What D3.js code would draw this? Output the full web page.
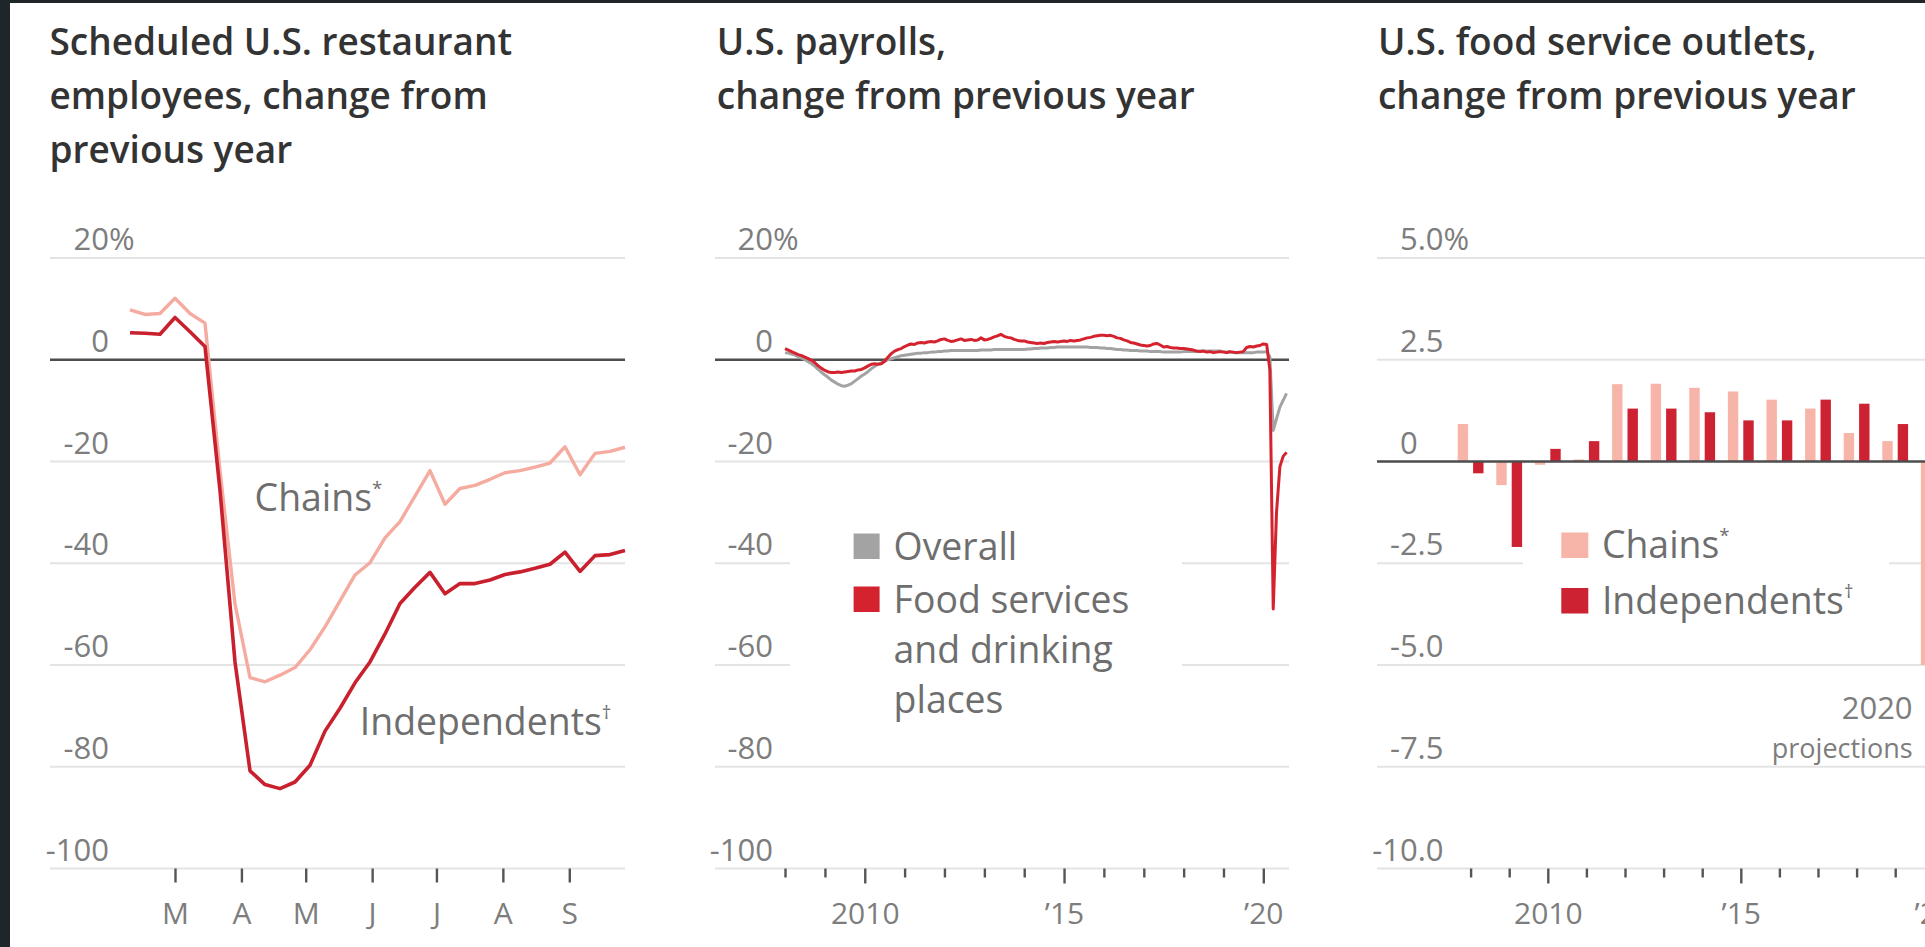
<!DOCTYPE html>
<html>
<head>
<meta charset="utf-8">
<script src="https://cdn.jsdelivr.net/npm/d3@7"></script>
<style>
  html, body { margin: 0; padding: 0; background: #1e2629; }
  svg { display: block; }
</style>
</head>
<body>
<svg id="chart" width="1925" height="947"></svg>
<script>
// ---------- Panel 1: scheduled restaurant employees (weekly, 2020) ----------
const weekDates = ["2020-02-09","2020-02-16","2020-02-23","2020-03-01","2020-03-08","2020-03-15",
  "2020-03-22","2020-03-29","2020-04-05","2020-04-12","2020-04-19","2020-04-26","2020-05-03",
  "2020-05-10","2020-05-17","2020-05-24","2020-05-31","2020-06-07","2020-06-14","2020-06-21",
  "2020-06-28","2020-07-05","2020-07-12","2020-07-19","2020-07-26","2020-08-02","2020-08-09",
  "2020-08-16","2020-08-23","2020-08-30","2020-09-06","2020-09-13","2020-09-20","2020-09-27"];
const chainsWeekly = [9.8, 8.9, 9.1, 12.1, 9.1, 7.2, -21.8, -48, -62.5, -63.3, -62, -60.5, -57,
  -52.5, -47.4, -42.3, -39.9, -35, -31.8, -26.8, -21.8, -28.4, -25.3, -24.7, -23.5, -22.2,
  -21.8, -21.1, -20.3, -17.1, -22.6, -18.4, -18, -17.2];
const independentsWeekly = [5.3, 5.2, 5.0, 8.3, 5.5, 2.6, -25.7, -59.4, -80.8, -83.5, -84.3, -83,
  -79.7, -73, -68.5, -63.5, -59.4, -53.9, -47.9, -44.7, -41.8, -46, -44, -44, -43.3, -42.2,
  -41.7, -41, -40.2, -37.8, -41.6, -38.5, -38.3, -37.5];
const monthTicks = ["2020-03-01","2020-04-01","2020-05-01","2020-06-01","2020-07-01","2020-08-01","2020-09-01"];
const monthLabels = ["M","A","M","J","J","A","S"];

// ---------- Panel 2: U.S. payrolls (monthly, Jan 2008 – Aug 2020) ----------
const payrollStart = "2008-01-01";
const overallPayrolls = [
  1.4, 1.3, 1.1, 0.9, 0.6, 0.3, 0.0, -0.4, -0.8, -1.3, -1.9, -2.5,
  -3.0, -3.5, -4.0, -4.4, -4.8, -5.1, -5.2, -5.0, -4.7, -4.2, -3.7, -3.2,
  -2.8, -2.3, -1.8, -1.3, -0.9, -0.6, -0.3, 0.0, 0.2, 0.4, 0.6, 0.8,
  0.9, 1.0, 1.1, 1.2, 1.3, 1.3, 1.4, 1.4, 1.5, 1.5, 1.6, 1.6,
  1.7, 1.7, 1.8, 1.8, 1.8, 1.8, 1.8, 1.8, 1.8, 1.8, 1.8, 1.9,
  1.9, 1.9, 1.9, 2.0, 2.0, 2.0, 2.0, 2.0, 2.0, 2.0, 2.0, 2.0,
  2.0, 2.1, 2.1, 2.2, 2.2, 2.3, 2.3, 2.3, 2.4, 2.4, 2.5, 2.5,
  2.5, 2.5, 2.5, 2.5, 2.5, 2.5, 2.5, 2.5, 2.4, 2.4, 2.4, 2.3,
  2.3, 2.2, 2.2, 2.1, 2.0, 2.0, 1.9, 1.9, 1.8, 1.8, 1.8, 1.7,
  1.7, 1.7, 1.6, 1.6, 1.6, 1.6, 1.5, 1.5, 1.5, 1.5, 1.5, 1.5,
  1.6, 1.6, 1.6, 1.6, 1.6, 1.7, 1.7, 1.7, 1.7, 1.7, 1.7, 1.7,
  1.6, 1.5, 1.5, 1.4, 1.4, 1.4, 1.4, 1.4, 1.4, 1.4, 1.5, 1.5,
  1.5, 1.6, 0.6, -13.9, -11.6, -9.3, -8.0, -6.6];
const foodServicePayrolls = [
  2.2, 1.9, 1.6, 1.3, 1.0, 0.8, 0.5, 0.2, -0.1, -0.6, -1.2, -1.7,
  -2.1, -2.4, -2.5, -2.5, -2.4, -2.5, -2.4, -2.3, -2.2, -2.2, -2.0, -1.9,
  -1.6, -1.2, -0.9, -0.8, -0.9, -0.8, -0.3, 0.5, 1.2, 1.7, 2.0, 2.2,
  2.6, 2.9, 3.1, 3.0, 3.3, 3.4, 3.3, 3.5, 3.6, 3.5, 3.7, 4.0,
  4.1, 3.8, 3.6, 3.7, 3.9, 4.1, 3.8, 3.9, 4.0, 3.8, 3.9, 4.3,
  3.9, 4.0, 4.2, 4.5, 4.7, 5.0, 4.6, 4.4, 4.3, 4.0, 3.8, 3.7,
  3.7, 3.5, 3.4, 3.3, 3.2, 3.3, 3.2, 3.4, 3.5, 3.6, 3.5, 3.6,
  3.7, 3.6, 3.8, 3.7, 3.8, 3.9, 4.1, 4.3, 4.4, 4.6, 4.7, 4.8,
  4.8, 4.7, 4.8, 4.6, 4.3, 4.2, 3.9, 3.7, 3.4, 3.3, 3.1, 2.9,
  2.8, 2.7, 2.8, 3.1, 3.2, 2.9, 2.5, 2.6, 2.4, 2.3, 2.3, 2.2,
  2.2, 2.1, 2.0, 1.9, 1.7, 1.6, 1.7, 1.5, 1.6, 1.4, 1.5, 1.6,
  1.5, 1.4, 1.6, 1.5, 1.4, 1.5, 1.6, 2.4, 2.6, 2.5, 2.7, 2.8,
  3.1, 3.0, -2.0, -49, -30, -21, -19, -18.2];
const axisYears = [2008, 2009, 2010, 2011, 2012, 2013, 2014, 2015, 2016, 2017, 2018, 2019, 2020];
const majorYears = [2010, 2015, 2020];
const yearLabels = ["2010", "\u201915", "\u201920"];

// ---------- Panel 3: U.S. food service outlets (annual) ----------
const outletYears = [2008, 2009, 2010, 2011, 2012, 2013, 2014, 2015, 2016, 2017, 2018, 2019, 2020];
const chainsOutlets = [0.92, -0.58, -0.08, 0.05, 1.9, 1.91, 1.81, 1.72, 1.52, 1.3, 0.7, 0.5, -5.0];
const independentsOutlets = [-0.29, -2.1, 0.31, 0.5, 1.3, 1.3, 1.21, 1.01, 1.01, 1.52, 1.42, 0.92, null];

// ---------- Axis ticks ----------
const pctTicks = [20, 0, -20, -40, -60, -80, -100];
const pctTickLabels = ["20%", "0", "-20", "-40", "-60", "-80", "-100"];
const outletTicks = [5, 2.5, 0, -2.5, -5, -7.5, -10];
const outletTickLabels = ["5.0%", "2.5", "0", "-2.5", "-5.0", "-7.5", "-10.0"];

// ---------- Colours ----------
const C_CHAINS = "#f5ab9f";
const C_INDEP = "#c9202e";
const C_FOOD = "#d4232f";
const C_OVERALL = "#a3a3a3";
const C_CHAINS_BAR = "#f7b4a8";
const C_INDEP_BAR = "#cc2231";

const FONT = "'Open Sans', 'Noto Sans', sans-serif";
const W = 1925, H = 947;
const svg = d3.select("#chart");

svg.append("rect").attr("width", W).attr("height", H).attr("fill", "#1e2629");
svg.append("rect").attr("x", 10).attr("y", 3).attr("width", W - 10).attr("height", H - 3).attr("fill", "#fff");

const plotTop = 258, plotBottom = 868.5;
const parse = d3.utcParse("%Y-%m-%d");

function drawTitle(x, lines) {
  const t = svg.append("text")
    .attr("font-family", FONT).attr("font-weight", 600).attr("font-size", 37)
    .attr("fill", "#333");
  lines.forEach((l, i) => t.append("tspan").attr("x", x).attr("y", 55 + i * 54).text(l));
}

function measure(str, size) {
  const t = svg.append("text").attr("font-family", FONT).attr("font-size", size).text(str);
  const w = t.node().getComputedTextLength();
  t.remove();
  return w;
}

// horizontal grid and value labels sitting just above each rule
function drawValueGrid(g, y, ticks, labels, x0, x1, labelRight, zero, decimal) {
  const dotW = decimal ? measure(".0", 31) : 0;
  ticks.forEach((v, i) => {
    if (v !== zero) {
      g.append("line").attr("x1", x0).attr("x2", x1).attr("y1", y(v)).attr("y2", y(v))
        .attr("stroke", "#e4e4e4").attr("stroke-width", 2);
    }
    let lab = labels[i];
    let suffix = "";
    if (lab.endsWith("%")) { suffix = "%"; lab = lab.slice(0, -1); }
    const right = (decimal && !lab.includes(".")) ? labelRight - dotW : labelRight;
    g.append("text").attr("x", right).attr("y", y(v) - 8)
      .attr("text-anchor", "end").attr("font-family", FONT).attr("font-size", 31)
      .attr("fill", "#7d7d7d").text(lab);
    if (suffix) {
      g.append("text").attr("x", right).attr("y", y(v) - 8)
        .attr("font-family", FONT).attr("font-size", 31)
        .attr("fill", "#7d7d7d").text(suffix);
    }
  });
}

function drawZero(g, y, zero, x0, x1) {
  g.append("line").attr("x1", x0).attr("x2", x1).attr("y1", y(zero)).attr("y2", y(zero))
    .attr("stroke", "#4d4d4d").attr("stroke-width", 2.6);
}

function styleAxis(ax) {
  ax.select(".domain").remove();
  ax.selectAll(".tick line").attr("stroke", "#555").attr("stroke-width", 2.4);
  ax.selectAll(".tick text").attr("font-family", FONT).attr("font-size", 30)
    .attr("fill", "#7d7d7d").attr("y", 924 - plotBottom).attr("dy", 0);
}

function labelText(g, x, y, main, sup, size) {
  const t = g.append("text").attr("x", x).attr("y", y)
    .attr("font-family", FONT).attr("font-size", size).attr("fill", "#6e6e6e");
  t.append("tspan").text(main);
  if (sup) t.append("tspan").attr("font-size", size * 0.5).attr("dy", -size * 0.42).text(sup);
  return t;
}

// ===================== Panel 1 =====================
{
  const g = svg.append("g");
  const gx0 = 50, gx1 = 625;
  drawTitle(49.5, ["Scheduled U.S. restaurant", "employees, change from", "previous year"]);
  const y = d3.scaleLinear().domain([20, -100]).range([plotTop, plotBottom]);
  const x = d3.scaleUtc().domain([parse(weekDates[0]), parse(weekDates[weekDates.length - 1])]).range([130, 625]);
  drawValueGrid(g, y, pctTicks, pctTickLabels, gx0, gx1, 109, 0, false);
  drawZero(g, y, 0, gx0, gx1);

  const ax = g.append("g").attr("transform", `translate(0,${plotBottom})`)
    .call(d3.axisBottom(x).tickValues(monthTicks.map(parse))
      .tickFormat((d, i) => monthLabels[i]).tickSize(14));
  styleAxis(ax);

  const line = d3.line().x((d, i) => x(parse(weekDates[i]))).y(d => y(d));
  g.append("path").datum(chainsWeekly).attr("d", line).attr("fill", "none")
    .attr("stroke", C_CHAINS).attr("stroke-width", 3.4).attr("stroke-linejoin", "round");
  g.append("path").datum(independentsWeekly).attr("d", line).attr("fill", "none")
    .attr("stroke", C_INDEP).attr("stroke-width", 3.6).attr("stroke-linejoin", "round");

  labelText(g, 254.6, 511, "Chains", "*", 37.4);
  labelText(g, 359.8, 735, "Independents", "\u2020", 37.4);
}

// ===================== Panel 2 =====================
{
  const g = svg.append("g");
  const gx0 = 715, gx1 = 1289;
  drawTitle(716.8, ["U.S. payrolls,", "change from previous year"]);
  const y = d3.scaleLinear().domain([20, -100]).range([plotTop, plotBottom]);
  const x = d3.scaleUtc().domain([Date.UTC(2008, 0, 1), Date.UTC(2020, 0, 1)]).range([785, 1263.3]);
  drawValueGrid(g, y, pctTicks, pctTickLabels, gx0, gx1, 773, 0, false);

  // legend backdrop hides the rules behind it
  g.append("rect").attr("x", 790).attr("y", 515).attr("width", 392).attr("height", 215).attr("fill", "#fff");
  drawZero(g, y, 0, gx0, gx1);

  const ax = g.append("g").attr("transform", `translate(0,${plotBottom})`)
    .call(d3.axisBottom(x).tickValues(axisYears.map(yr => new Date(Date.UTC(yr, 0, 1))))
      .tickFormat(d => {
        const k = majorYears.indexOf(d.getUTCFullYear());
        return k >= 0 ? yearLabels[k] : "";
      }).tickSize(9));
  styleAxis(ax);
  ax.selectAll(".tick line").filter(d => majorYears.includes(d.getUTCFullYear())).attr("y2", 15);

  const start = parse(payrollStart);
  const line = d3.line().x((d, i) => x(d3.utcMonth.offset(start, i))).y(d => y(d));
  g.append("path").datum(overallPayrolls).attr("d", line).attr("fill", "none")
    .attr("stroke", C_OVERALL).attr("stroke-width", 3).attr("stroke-linejoin", "round");
  g.append("path").datum(foodServicePayrolls).attr("d", line).attr("fill", "none")
    .attr("stroke", C_FOOD).attr("stroke-width", 3).attr("stroke-linejoin", "round");

  // legend
  g.append("rect").attr("x", 853.6).attr("y", 533.5).attr("width", 26).attr("height", 25.5).attr("fill", C_OVERALL);
  labelText(g, 893.6, 559.5, "Overall", null, 37.4);
  g.append("rect").attr("x", 853.6).attr("y", 586.5).attr("width", 26).attr("height", 25.5).attr("fill", C_FOOD);
  const t = g.append("text").attr("font-family", FONT).attr("font-size", 37.4).attr("fill", "#6e6e6e");
  ["Food services", "and drinking", "places"].forEach((l, i) =>
    t.append("tspan").attr("x", 893.6).attr("y", 612.5 + i * 50).text(l));
}

// ===================== Panel 3 =====================
{
  const g = svg.append("g");
  const gx0 = 1377, gx1 = 1960;
  drawTitle(1378, ["U.S. food service outlets,", "change from previous year"]);
  const y = d3.scaleLinear().domain([5, -10]).range([plotTop, plotBottom]);
  const x = d3.scaleLinear().domain([2008, 2020]).range([1470.6, 1933.8]);
  const inner = d3.scaleBand().domain(["chains", "independents"]).range([-12.9, 12.9]).paddingInner(0.325);
  drawValueGrid(g, y, outletTicks, outletTickLabels, gx0, gx1, 1443.5, 0, true);

  const ax = g.append("g").attr("transform", `translate(0,${plotBottom})`)
    .call(d3.axisBottom(x).tickValues(axisYears)
      .tickFormat(d => {
        const k = majorYears.indexOf(d);
        return k >= 0 ? yearLabels[k] : "";
      }).tickSize(9));
  styleAxis(ax);
  ax.selectAll(".tick line").filter(d => majorYears.includes(d)).attr("y2", 15);

  const bars = [];
  outletYears.forEach((yr, i) => {
    bars.push({ year: yr, key: "chains", v: chainsOutlets[i] });
    if (independentsOutlets[i] !== null) bars.push({ year: yr, key: "independents", v: independentsOutlets[i] });
  });
  g.selectAll("rect.bar").data(bars).enter().append("rect").attr("class", "bar")
    .attr("x", d => x(d.year) + inner(d.key))
    .attr("width", inner.bandwidth())
    .attr("y", d => Math.min(y(d.v), y(0)))
    .attr("height", d => Math.abs(y(d.v) - y(0)))
    .attr("fill", d => d.key === "chains" ? C_CHAINS_BAR : C_INDEP_BAR);

  // legend backdrop
  g.append("rect").attr("x", 1523).attr("y", 512).attr("width", 366).attr("height", 122).attr("fill", "#fff");
  drawZero(g, y, 0, gx0, gx1);

  g.append("rect").attr("x", 1561.3).attr("y", 532.5).attr("width", 27).attr("height", 25.5).attr("fill", C_CHAINS_BAR);
  labelText(g, 1601.9, 558, "Chains", "*", 37.4);
  g.append("rect").attr("x", 1561.3).attr("y", 588).attr("width", 27).attr("height", 25.5).attr("fill", C_INDEP_BAR);
  labelText(g, 1601.9, 613.5, "Independents", "\u2020", 37.4);

  g.append("text").attr("x", 1912.6).attr("y", 719).attr("text-anchor", "end")
    .attr("font-family", FONT).attr("font-size", 31).attr("fill", "#7d7d7d").text("2020");
  g.append("text").attr("x", 1912.6).attr("y", 758).attr("text-anchor", "end")
    .attr("font-family", FONT).attr("font-size", 27).attr("fill", "#7d7d7d").text("projections");
}
</script>
</body>
</html>
